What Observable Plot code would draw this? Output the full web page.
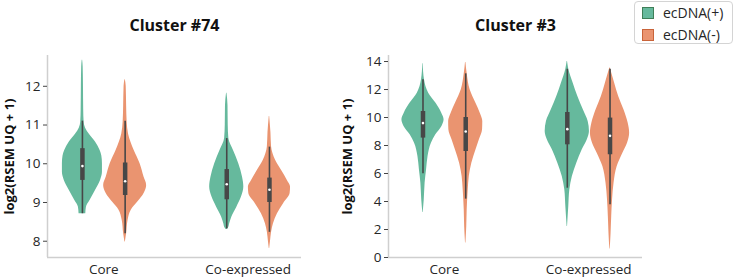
<!DOCTYPE html>
<html>
<head>
<meta charset="utf-8">
<script src="https://cdn.jsdelivr.net/npm/d3@7"></script>
<script src="https://cdn.jsdelivr.net/npm/@observablehq/plot@0.6"></script>
<style>
  html, body { margin: 0; padding: 0; background: #fff; }
  #wrap { position: relative; width: 734px; height: 279px; overflow: hidden; font-family: "Open Sans", sans-serif; }
  #wrap > .panel { position: absolute; top: 0; }
  #legend { position: absolute; left: 634px; top: 1px; width: 97px; height: 41px; border: 1px solid #d4d4d4; border-radius: 4px; background: #fff; font-size: 14px; color: #262626; }
  #legend .row { position: absolute; left: 7px; display: flex; align-items: center; line-height: 16px; }
  #legend .sw { width: 10px; height: 10px; border: 1px solid; margin-right: 9px; }
</style>
</head>
<body>
<div id="wrap"></div>
<script>
// ---------- data ----------
const categories = ["Core", "Co-expressed"];
const groups = ["ecDNA(+)", "ecDNA(-)"];
const groupColors = ["#66b99d", "#ea9470"];
const titles = ["Cluster #74", "Cluster #3"];
const yLabel = "log2(RSEM UQ + 1)";
const ticks74 = [8, 9, 10, 11, 12];
const ticks3 = [0, 2, 4, 6, 8, 10, 12, 14];

// violin density profiles: [value, relative density]
const c74CorePos = [[8.71,0.16],[8.88,0.19],[9.05,0.36],[9.31,0.62],[9.57,0.86],[9.78,0.95],[10.0,0.95],[10.2,0.92],[10.34,0.84],[10.56,0.62],[10.77,0.32],[10.92,0.15],[11.07,0.08],[11.4,0.06],[12.0,0.05],[12.5,0.035],[12.67,0.01]];
const c74CoreNeg = [[7.98,0.01],[8.19,0.07],[8.54,0.14],[8.8,0.29],[9.01,0.6],[9.23,0.9],[9.44,1.02],[9.65,0.9],[10.0,0.71],[10.34,0.43],[10.77,0.16],[11.07,0.095],[11.5,0.07],[12.0,0.05],[12.17,0.01]];
const c74CoexPos = [[8.3,0.03],[8.34,0.08],[8.45,0.14],[8.62,0.24],[8.88,0.48],[9.14,0.7],[9.4,0.81],[9.65,0.75],[10.0,0.57],[10.34,0.32],[10.65,0.1],[11.0,0.07],[11.5,0.06],[11.82,0.01]];
const c74CoexNeg = [[7.81,0.01],[8.0,0.05],[8.23,0.1],[8.45,0.19],[8.71,0.38],[8.97,0.67],[9.23,0.98],[9.4,1.0],[9.57,0.85],[9.83,0.57],[10.09,0.29],[10.43,0.1],[10.8,0.07],[11.22,0.01]];

const c3CorePos = [[3.22,0.01],[4.12,0.06],[5.31,0.1],[6.26,0.17],[7.21,0.24],[8.17,0.4],[8.76,0.61],[9.36,0.9],[9.84,1.0],[10.31,0.89],[11.03,0.61],[11.74,0.27],[12.69,0.07],[13.84,0.01]];
const c3CoreNeg = [[1.03,0.01],[2.21,0.05],[3.41,0.07],[4.84,0.12],[5.79,0.17],[6.74,0.29],[7.69,0.49],[8.41,0.65],[9.12,0.8],[9.71,0.81],[10.31,0.69],[11.03,0.48],[11.98,0.21],[13.12,0.07],[13.93,0.01]];
const c3CoexPos = [[2.21,0.01],[3.64,0.07],[4.84,0.12],[5.79,0.24],[6.74,0.45],[7.69,0.71],[8.41,0.95],[9.0,1.05],[9.71,0.99],[10.55,0.76],[11.5,0.5],[12.45,0.28],[13.45,0.07],[14.0,0.01]];
const c3CoexNeg = [[0.6,0.01],[1.74,0.05],[2.93,0.08],[4.12,0.12],[5.31,0.19],[6.5,0.34],[7.45,0.61],[8.17,0.83],[8.88,0.93],[9.6,0.86],[10.55,0.66],[11.5,0.41],[12.45,0.22],[13.53,0.01]];

// box stats: [whiskerLow, q1, median, q3, whiskerHigh]; order: core+, core-, coex+, coex-
const box74 = [[8.71,9.57,9.94,10.39,11.1],[8.19,9.18,9.55,10.02,11.1],[8.32,9.07,9.47,9.85,10.65],[8.23,9.0,9.33,9.63,10.43]];
const box3  = [[5.98,8.53,9.6,10.43,12.69],[4.17,7.57,9.0,10.0,13.12],[4.95,8.05,9.17,10.36,13.45],[3.76,7.34,8.69,9.96,13.45]];

// ---------- layout helpers ----------
const DODGE = 0.148;      // offset of each hue from category center (category spacing = 1)
const WIDTH = 0.146;      // half-width (x units) for density 1
const order = [[0,0],[0,1],[1,0],[1,1]];

function pos(ci, gi) { return ci + (gi === 0 ? -DODGE : DODGE); }

function makePanel(opts) {
  const {title, dens, boxes, yDomain, yTicks, xDomain, width, marginLeft, marginRight, labelDx} = opts;
  const rows = [];
  dens.forEach((arr, k) => {
    const [ci, gi] = order[k];
    arr.forEach(([v, d]) => rows.push({key: k, cat: categories[ci], grp: groups[gi], c: pos(ci, gi), v, d}));
  });
  const bx = boxes.map((b, k) => {
    const [ci, gi] = order[k];
    return {c: pos(ci, gi), lo: b[0], q1: b[1], med: b[2], q3: b[3], hi: b[4]};
  });
  return Plot.plot({
    width, height: 279,
    marginLeft, marginRight, marginTop: 55, marginBottom: 22,
    style: {fontFamily: "'Open Sans', sans-serif", fontSize: "13.5px", color: "#262626", background: "white"},
    x: {domain: xDomain},
    y: {domain: yDomain},
    color: {domain: groups, range: groupColors},
    marks: [
      Plot.ruleX([xDomain[0]], {stroke: "#cfcfcf", strokeWidth: 1.5}),
      Plot.ruleY([yDomain[0]], {stroke: "#cfcfcf", strokeWidth: 1.5}),
      Plot.areaX(rows, {
        y: "v",
        x1: r => r.c - r.d * WIDTH,
        x2: r => r.c + r.d * WIDTH,
        z: "key",
        fill: "grp",
        curve: "monotone-y"
      }),
      Plot.ruleX(bx, {x: "c", y1: "lo", y2: "hi", stroke: "#474747", strokeWidth: 1.6}),
      Plot.ruleX(bx, {x: "c", y1: "q1", y2: "q3", stroke: "#474747", strokeWidth: 4.5}),
      Plot.dot(bx, {x: "c", y: "med", r: 1.3, fill: "white", stroke: null}),
      Plot.axisY({ticks: yTicks, tickSize: 4, tickPadding: 3, stroke: "#444", label: null, tickFormat: d => String(d)}),
      Plot.axisX({ticks: [0, 1], tickFormat: i => categories[i], tickSize: 0, tickPadding: 7, label: null}),
      Plot.text([title], {frameAnchor: "top", lineAnchor: "middle", dy: -30, fontWeight: "bold", fontSize: 16, fill: "#111"}),
      Plot.text([yLabel], {frameAnchor: "left", rotate: -90, dx: labelDx, textAnchor: "middle", lineAnchor: "middle", fontWeight: "bold", fontSize: 13, fill: "#111"})
    ]
  });
}

const wrap = document.getElementById("wrap");

const p1 = makePanel({
  title: titles[0],
  dens: [c74CorePos, c74CoreNeg, c74CoexPos, c74CoexNeg],
  boxes: box74,
  yDomain: [7.58, 12.795],
  yTicks: ticks74,
  xDomain: [-0.39, 1.37],
  width: 330, marginLeft: 47, marginRight: 29, labelDx: -38
});
p1.classList.add("panel");
p1.style.left = "0px";
wrap.appendChild(p1);

const p2 = makePanel({
  title: titles[1],
  dens: [c3CorePos, c3CoreNeg, c3CoexPos, c3CoexNeg],
  boxes: box3,
  yDomain: [0, 14.43],
  yTicks: ticks3,
  xDomain: [-0.387, 1.373],
  width: 404, marginLeft: 58, marginRight: 92, labelDx: -41
});
p2.classList.add("panel");
p2.style.left = "330px";
wrap.appendChild(p2);

// legend
const legend = document.createElement("div");
legend.id = "legend";
const legendStrokes = ["#3f7f58", "#c9643a"];
groups.forEach((g, i) => {
  const row = document.createElement("div");
  row.className = "row";
  row.style.top = (i === 0 ? 3 : 25) + "px";
  const sw = document.createElement("span");
  sw.className = "sw";
  sw.style.background = groupColors[i];
  sw.style.borderColor = legendStrokes[i];
  const t = document.createElement("span");
  t.textContent = g;
  row.appendChild(sw);
  row.appendChild(t);
  legend.appendChild(row);
});
wrap.appendChild(legend);
</script>
</body>
</html>
